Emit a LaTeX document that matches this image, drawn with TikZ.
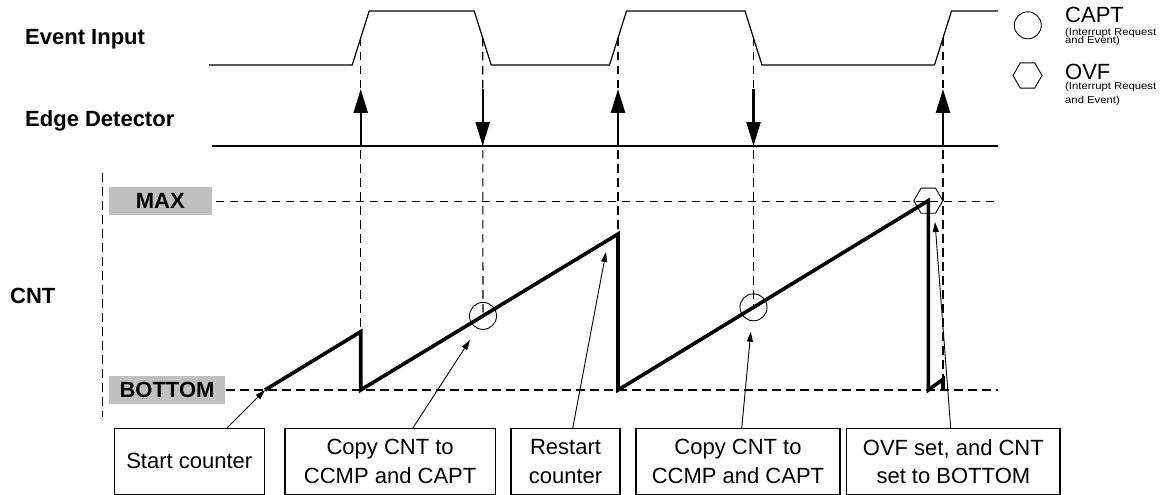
\documentclass[tikz,border=0pt]{standalone}
\usepackage{fontspec}
\setmainfont{Liberation Sans}
\usepackage{graphicx}
\usetikzlibrary{arrows.meta,shapes.geometric}
\definecolor{tagGray}{HTML}{C0C0C0}
\begin{document}
\begin{tikzpicture}[x=1pt,y=-1pt,
  sig/.style={line width=1.2pt, line join=miter},
  dsh/.style={line width=1.1pt, dash pattern=on 8.5pt off 5.5pt},
  cntline/.style={line width=3.6pt, line join=miter},
  edgearrow/.style={line width=2.4pt, -{Triangle[length=24pt,width=14pt]}},
  note/.style={line width=0.9pt, -{Triangle[length=10pt,width=6pt]}},
  lbl/.style={font=\fontsize{22}{26}\selectfont\bfseries, inner sep=0pt, anchor=base west},
  tag/.style={fill=tagGray, inner sep=0pt, font=\fontsize{22}{26}\selectfont\bfseries},
  box/.style={draw, line width=1.1pt, inner sep=0pt, minimum height=66.2pt, align=center, font=\fontsize{22}{28.4}\selectfont},
  capt/.style={circle, draw, line width=0.9pt, minimum size=27pt, inner sep=0pt},
  ovf/.style={regular polygon, regular polygon sides=6, draw, line width=0.9pt, minimum size=29pt, inner sep=0pt},
  legbig/.style={inner sep=0pt, anchor=base west, font=\fontsize{22}{22}\selectfont},
  legsmall/.style={inner sep=0pt, anchor=base west, font=\fontsize{10}{10}\selectfont}
]
\useasboundingbox (0,0) rectangle (1163,495);

% row labels
\node[lbl] (lev) at (25,45) {Event Input};
\node[lbl] (led) at (25,127) {Edge Detector};
\node[lbl] (lcnt) at (10,303.3) {CNT};

% edge midpoints
\coordinate (e1) at (360.7,38);
\coordinate (e2) at (482.7,38);
\coordinate (e3) at (618,38);
\coordinate (e4) at (753.5,38);
\coordinate (e5) at (943,38);

% event input waveform
\draw[sig] (209,65) -- (352.2,65) -- (369.2,11) -- (474.2,11) -- (491.2,65)
  -- (609.5,65) -- (626.5,11) -- (745,11) -- (762,65) -- (934.5,65) -- (951.5,11) -- (998,11);

% edge detector
\coordinate (edL) at (212,146);
\coordinate (edR) at (998,146);
\coordinate (atop) at (0,89);
\draw[sig] (edL) -- (edR);

% level tags
\node[tag, minimum width=102.6pt, minimum height=27.7pt] (max) at (160.3,201.1) {MAX};
\node[tag, minimum width=116pt, minimum height=28pt] (bot) at (167,390) {BOTTOM};
\coordinate (maxR) at (998,201.1);
\coordinate (botR) at (998,390);
\draw[dsh] ([xshift=4pt]max.east) -- (maxR);
\draw[dsh] ([xshift=1pt]bot.east) -- (botR);

% left frame of counter area
\draw[dsh] (102.3,173) -- (102.3,416.7);

% counter sawtooth corners
\coordinate (s0) at (265,390);
\coordinate (p1) at (360.7,331.7);
\coordinate (b1) at (360.7,390);
\coordinate (p2) at (618,234);
\coordinate (b2) at (618,390);
\coordinate (p3) at (928.3,200.7);
\coordinate (b3) at (928.3,390);
\coordinate (k)  at (943,379.3);
\coordinate (b4) at (943,390);

% capture markers
\node[capt] (c1) at (483,315.9) {};
\node[capt] (c2) at (753.5,307.3) {};
\node[ovf]  (h1) at (928.3,200.7) {};

% dashed event projections
\draw[dsh] (e1) -- (p1);
\draw[dsh] (e2) -- (c1.center);
\draw[dsh] (e3) -- (p2);
\draw[dsh] (e4) -- (c2.center);
\draw[dsh] (e5) -- (b4);

% edge detector arrows
\draw[edgearrow] (e1 |- edL) -- (e1 |- atop);
\draw[edgearrow] (e2 |- atop) -- (e2 |- edL);
\draw[edgearrow] (e3 |- edL) -- (e3 |- atop);
\draw[edgearrow] (e4 |- atop) -- (e4 |- edL);
\draw[edgearrow] (e5 |- edL) -- (e5 |- atop);

% counter
\draw[cntline] (s0) -- (p1) -- (b1) -- (p2) -- (b2) -- (p3) -- (b3) -- (k) -- (b4);

% bottom boxes
\node[box, minimum width=150pt]   (bstart)   at (189.3,461.4) {Start counter};
\node[box, minimum width=210.3pt] (bcopy1)   at (390.15,461.4) {Copy CNT to\\CCMP and CAPT};
\node[box, minimum width=109pt]   (brestart) at (565.5,461.4) {Restart\\counter};
\node[box, minimum width=204pt]   (bcopy2)   at (738,461.4) {Copy CNT to\\CCMP and CAPT};
\node[box, minimum width=213.3pt] (bovf)     at (953.35,461.4) {OVF set, and CNT\\set to BOTTOM};

% annotation arrows
\coordinate (a1) at (226.7,428.3);  \coordinate (t1) at (265,390);
\coordinate (a2) at (412.7,428.3);  \coordinate (t2) at (470,340);
\coordinate (a3) at (572.7,428.3);  \coordinate (t3) at (606,252);
\coordinate (a4) at (741.7,428.3);  \coordinate (t4) at (750.8,331.7);
\coordinate (a5) at (950.7,428.3);  \coordinate (t5) at (935,222);
\draw[note] (a1) -- (t1);
\draw[note] (a2) -- (t2);
\draw[note] (a3) -- (t3);
\draw[note] (a4) -- (t4);
\draw[note] (a5) -- (t5);

% legend
\node[capt] (lgc) at (1027.8,25.3) {};
\node[ovf]  (lgh) at (1027.5,75.5) {};
\node[legbig] (lgt1) at (1065,22.7) {CAPT};
\node[legsmall] (lgt1a) at (1065,35.5) {\scalebox{1.13}[1]{(Interrupt Request}};
\node[legsmall] (lgt1b) at (1065,43.8) {\scalebox{1.13}[1]{and Event)}};
\node[legbig] (lgt2) at (1065,79.3) {OVF};
\node[legsmall] (lgt2a) at (1065,90) {\scalebox{1.13}[1]{(Interrupt Request}};
\node[legsmall] (lgt2b) at (1065,103) {\scalebox{1.13}[1]{and Event)}};
\end{tikzpicture}
\end{document}
